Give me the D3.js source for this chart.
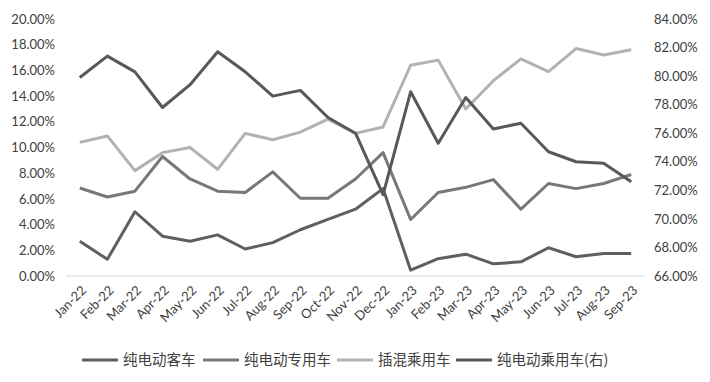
<!DOCTYPE html>
<html>
<head>
<meta charset="utf-8">
<script src="https://cdn.jsdelivr.net/npm/d3@7"></script>
<style>
  body { margin: 0; background: #fff; }
  text { font-family: Lato, "Liberation Sans", sans-serif; fill: #404040; }
  .legend text { font-family: "Noto Sans CJK SC", sans-serif; }
</style>
</head>
<body>
<script>
var months = ["Jan-22","Feb-22","Mar-22","Apr-22","May-22","Jun-22","Jul-22","Aug-22","Sep-22","Oct-22","Nov-22","Dec-22",
              "Jan-23","Feb-23","Mar-23","Apr-23","May-23","Jun-23","Jul-23","Aug-23","Sep-23"];

// left axis series (share, %)
var keche   = [2.7, 1.3, 5.0, 3.1, 2.7, 3.2, 2.1, 2.6, 3.6, 4.4, 5.2, 6.8, 0.45, 1.35, 1.7, 0.95, 1.1, 2.2, 1.5, 1.75, 1.75];
var zhuanyong = [6.85, 6.15, 6.6, 9.3, 7.55, 6.6, 6.5, 8.1, 6.05, 6.05, 7.55, 9.6, 4.4, 6.5, 6.9, 7.5, 5.2, 7.2, 6.8, 7.2, 7.9];
var chahun  = [10.4, 10.9, 8.2, 9.6, 10.0, 8.3, 11.1, 10.6, 11.2, 12.2, 11.1, 11.6, 16.4, 16.8, 13.0, 15.2, 16.9, 15.9, 17.7, 17.2, 17.6];
// right axis series
var chengyong = [79.9, 81.4, 80.3, 77.8, 79.4, 81.7, 80.3, 78.6, 79.0, 77.1, 76.0, 71.7, 78.9, 75.3, 78.5, 76.3, 76.7, 74.7, 74.0, 73.9, 72.6];

var leftTicks = [0, 2, 4, 6, 8, 10, 12, 14, 16, 18, 20];
var rightTicks = [66, 68, 70, 72, 74, 76, 78, 80, 82, 84];

var W = 710, H = 382;
var svg = d3.select("body").append("svg").attr("width", W).attr("height", H);

var x = d3.scalePoint().domain(months).range([66, 645]).padding(0.5);
var yL = d3.scaleLinear().domain([0, 20]).range([276, 19]);
var yR = d3.scaleLinear().domain([66, 84]).range([276, 19]);

// baseline
svg.append("line").attr("x1", 66).attr("x2", 645).attr("y1", yL(0)).attr("y2", yL(0))
  .attr("stroke", "#d9d9d9").attr("stroke-width", 1);

var axL = svg.append("g").attr("transform", "translate(55,0)")
  .call(d3.axisLeft(yL).tickValues(leftTicks).tickSize(0).tickPadding(0).tickFormat(function(d){ return d.toFixed(2) + "%"; }));
var axR = svg.append("g").attr("transform", "translate(654,0)")
  .call(d3.axisRight(yR).tickValues(rightTicks).tickSize(0).tickPadding(0).tickFormat(function(d){ return d.toFixed(2) + "%"; }));
[axL, axR].forEach(function(a){
  a.select(".domain").remove();
  a.selectAll("text").attr("font-size", 13).attr("fill", "#404040")
    .style("font-family", "Lato, 'Liberation Sans', sans-serif");
});

// x labels
svg.append("g").selectAll("text").data(months).enter().append("text")
  .attr("transform", function(d){ return "translate(" + (x(d) + 4) + ",288) rotate(-45)"; })
  .attr("text-anchor", "end").attr("dy", "0.35em")
  .attr("font-size", 13).text(function(d){ return d; });

var series = [
  { name: "纯电动客车", data: keche, y: yL, color: "#5f5f5f" },
  { name: "纯电动专用车", data: zhuanyong, y: yL, color: "#787878" },
  { name: "插混乘用车", data: chahun, y: yL, color: "#b2b2b2" },
  { name: "纯电动乘用车(右)", data: chengyong, y: yR, color: "#585858" }
];

series.forEach(function(s){
  var line = d3.line().x(function(d, i){ return x(months[i]); }).y(function(d){ return s.y(d); });
  svg.append("path").datum(s.data).attr("d", line)
    .attr("fill", "none").attr("stroke", s.color).attr("stroke-width", 3)
    .attr("stroke-linejoin", "round");
});

// legend
var lg = svg.append("g").attr("class", "legend");
var lx = [82, 203, 337, 456];
series.forEach(function(s, i){
  lg.append("line").attr("x1", lx[i]).attr("x2", lx[i] + 36).attr("y1", 360).attr("y2", 360)
    .attr("stroke", s.color).attr("stroke-width", 3);
  lg.append("text").attr("x", lx[i] + 41).attr("y", 360).attr("dy", "0.35em")
    .attr("font-size", 14.5).text(s.name);
});
</script>
</body>
</html>
